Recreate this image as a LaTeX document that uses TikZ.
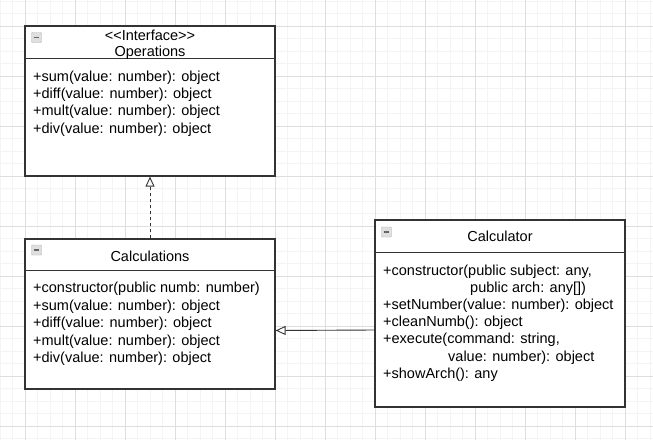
\documentclass[tikz,border=0pt]{standalone}
\usepackage{fontspec}
\newfontfamily\arial{Liberation Sans}
\usetikzlibrary{arrows.meta}

\definecolor{linha}{HTML}{333333}
\definecolor{gradefina}{HTML}{F4F4F4}
\definecolor{gradeforte}{HTML}{DEDEDE}

\tikzset{
  classe/.style={draw=linha, line width=1.2, fill=white, minimum width=250, inner sep=0},
  titulo/.style={font=\arial\fontsize{14.5}{17}\selectfont, anchor=base, inner sep=0},
  membro/.style={font=\arial\fontsize{14.5}{17}\selectfont, anchor=base west, inner sep=0},
  recolher/.style={draw=gray!60, fill=gray!25, rounded corners=1, minimum size=10, inner sep=0,
    path picture={\draw[black!60, line width=1.5]
      ([xshift=2.2pt]path picture bounding box.west) -- ([xshift=-2.2pt]path picture bounding box.east);}},
  heranca/.style={draw=linha, line width=0.9, -{Triangle[open, length=10pt, width=9pt]}}
}

\begin{document}
\begin{tikzpicture}[x=1pt, y=-1pt]
    \useasboundingbox (0,0) rectangle (653,440);

    % Grade de fundo
    \foreach \x in {0,12.5,...,653} \draw[gradefina, line width=0.8] (\x,0) -- (\x,440);
    \foreach \y in {1,13.5,...,440} \draw[gradefina, line width=0.8] (0,\y) -- (653,\y);
    \foreach \x in {25,75,...,625} \draw[gradeforte, line width=0.8] (\x,0) -- (\x,440);
    \foreach \y in {26,76,...,426} \draw[gradeforte, line width=0.8] (0,\y) -- (653,\y);

    % Caixas das classes
    \node[classe, minimum height=150] (ops) at (150,101) {};
    \node[classe, minimum height=150] (calcs) at (150,314) {};
    \node[classe, minimum height=187] (calcr) at (500,313.5) {};

    % Linhas dos cabeçalhos
    \draw[linha, line width=1.2] ([yshift=-33pt]ops.north west) -- ([yshift=-33pt]ops.north east);
    \draw[linha, line width=1.2] ([yshift=-32pt]calcs.north west) -- ([yshift=-32pt]calcs.north east);
    \draw[linha, line width=1.2] ([yshift=-32.7pt]calcr.north west) -- ([yshift=-32.7pt]calcr.north east);

    % Botões de recolher
    \node[recolher] (ops-btn) at (36.5,37.5) {};
    \node[recolher] (calcs-btn) at (36.5,250) {};
    \node[recolher] (calcr-btn) at (386.5,232) {};

    % Nomes das classes
    \node[titulo] (ops-st) at (150,40) {<<Interface>>};
    \node[titulo] (ops-nome) at (150,56.7) {Operations};
    \node[titulo] (calcs-nome) at (150,261) {Calculations};
    \node[titulo] (calcr-nome) at (500,241.7) {Calculator};

    % Métodos
    \foreach \txt [count=\i] in {{+sum(value: number): object}, {+diff(value: number): object},
        {+mult(value: number): object}, {+div(value: number): object}}
      \node[membro] (ops-m\i) at (33,{81+17.4*(\i-1)}) {\txt};
    \foreach \txt [count=\i] in {{+constructor(public numb: number)}, {+sum(value: number): object},
        {+diff(value: number): object}, {+mult(value: number): object}, {+div(value: number): object}}
      \node[membro] (calcs-m\i) at (33,{292.7+17.5*(\i-1)}) {\txt};
    \foreach \x/\txt [count=\i] in {383/{+constructor(public subject: any,}, 470/{public arch: any[])},
        383/{+setNumber(value: number): object}, 383/{+cleanNumb(): object},
        383/{+execute(command: string,}, 448/{value: number): object}, 383/{+showArch(): any}}
      \node[membro] (calcr-m\i) at (\x,{275+17.2*(\i-1)}) {\txt};

    % Relações
    \draw[heranca, dash pattern=on 3.5pt off 2.5pt] (calcs.north) -- (ops.south);
    \draw[heranca] ([yshift=-16.5pt]calcr.west) -- ([yshift=-16.5pt]calcs.east);

    \end{tikzpicture}
\end{document}
